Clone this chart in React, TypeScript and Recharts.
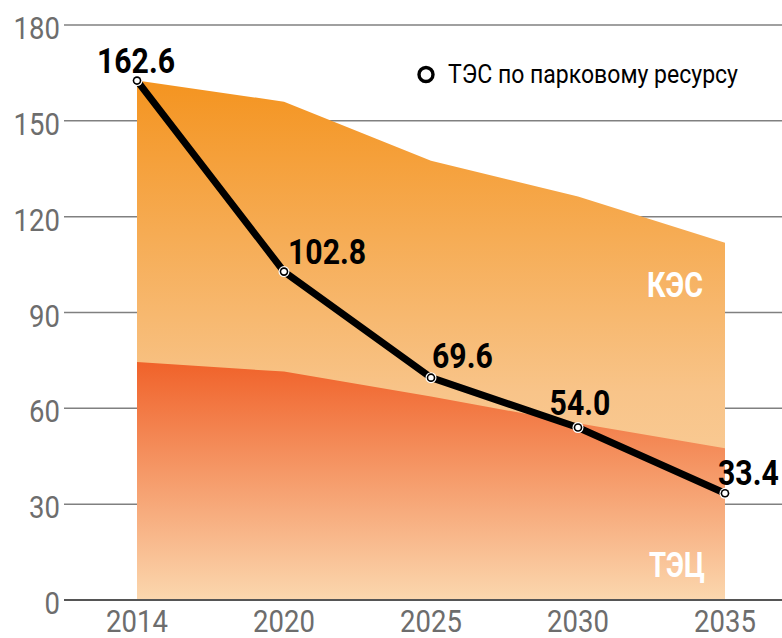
import { Area, CartesianGrid, ComposedChart, Line, XAxis, YAxis } from 'recharts'

const YEARS = ['2014', '2020', '2025', '2030', '2035']
const KES_TOTAL = [162.6, 156.0, 137.5, 126.3, 111.8]
const TEC = [74.5, 71.5, 63.7, 55.3, 47.5]
const PARK_RESOURCE = [162.6, 102.8, 69.6, 54.0, 33.4]
const Y_TICKS = [0, 30, 60, 90, 120, 150, 180]

const data = YEARS.map((year, i) => ({
  year,
  kes: KES_TOTAL[i],
  tec: TEC[i],
  park: PARK_RESOURCE[i],
}))

const FONT = "Roboto, 'Noto Sans', sans-serif"
const SQUEEZE = 0.86

// label placement per point: [dx, dy, anchor]
const LABEL_POS: [number, number, string][] = [
  [-1, -8, 'middle'],
  [4, -8, 'start'],
  [1, -10, 'start'],
  [2, -13, 'middle'],
  [-7, -8, 'start'],
]

function XTick(props: any) {
  const { x, payload } = props
  return (
    <text
      transform={`translate(${x},632) scale(${SQUEEZE},1)`}
      textAnchor="middle"
      fontFamily={FONT}
      fontSize={32}
      fill="#6d6d6d"
    >
      {payload.value}
    </text>
  )
}

function YTick(props: any) {
  const { y, payload } = props
  return (
    <text
      transform={`translate(60,${y + 14}) scale(${SQUEEZE},1)`}
      textAnchor="end"
      fontFamily={FONT}
      fontSize={32}
      fill="#6d6d6d"
    >
      {payload.value}
    </text>
  )
}

function ParkDot(props: any) {
  const { cx, cy } = props
  if (cx == null || cy == null) return null
  return (
    <g>
      <circle cx={cx} cy={cy} r={5.5} fill="#fff" />
      <circle cx={cx} cy={cy} r={4.3} fill="#000" />
      <circle cx={cx} cy={cy} r={2.7} fill="#fff" />
    </g>
  )
}

function ParkLabel(props: any) {
  const { x, y, value, index } = props
  const [dx, dy, anchor] = LABEL_POS[index] ?? [0, -10, 'middle']
  return (
    <text
      transform={`translate(${x + dx},${y + dy}) scale(0.84,1)`}
      textAnchor={anchor as any}
      fontFamily={FONT}
      fontWeight="bold"
      fontSize={36}
      fill="#000"
    >
      {Number(value).toFixed(1)}
    </text>
  )
}

export default function App() {
  return (
    <div style={{ position: 'absolute', left: 0, top: 0, width: 782, height: 638, background: '#fff' }}>
      <ComposedChart width={782} height={638} data={data} margin={{ top: 25, right: 0, left: 0, bottom: 0 }}>
        <defs>
          <linearGradient id="gradKes" x1="0" y1="0" x2="0" y2="1">
            <stop offset="0%" stopColor="#f49420" />
            <stop offset="60%" stopColor="#f8c489" />
            <stop offset="100%" stopColor="#fbd6a8" />
          </linearGradient>
          <linearGradient id="gradTec" x1="0" y1="0" x2="0" y2="1">
            <stop offset="0%" stopColor="#f0622a" />
            <stop offset="100%" stopColor="#fbd7ae" />
          </linearGradient>
        </defs>
        <XAxis
          dataKey="year"
          padding={{ left: 73, right: 57 }}
          axisLine={{ stroke: '#555', strokeWidth: 2 }}
          tickLine={false}
          tick={<XTick />}
          height={38}
        />
        <YAxis
          domain={[0, 180]}
          ticks={Y_TICKS}
          width={64}
          axisLine={false}
          tickLine={false}
          tick={<YTick />}
        />
        <Area
          type="linear"
          dataKey="kes"
          stroke="none"
          fill="url(#gradKes)"
          fillOpacity={1}
          isAnimationActive={false}
        />
        <Area
          type="linear"
          dataKey="tec"
          stroke="none"
          fill="url(#gradTec)"
          fillOpacity={1}
          isAnimationActive={false}
        />
        <CartesianGrid vertical={false} stroke="#808080" strokeWidth={1.5} />
        <Line
          type="linear"
          dataKey="park"
          stroke="#000"
          strokeWidth={7}
          dot={<ParkDot />}
          activeDot={false}
          label={<ParkLabel />}
          isAnimationActive={false}
        />
      </ComposedChart>
      <svg
        width={782}
        height={638}
        style={{ position: 'absolute', left: 0, top: 0, pointerEvents: 'none' }}
      >
        <text
          x={647}
          y={297}
          fontFamily={FONT}
          fontWeight="bold"
          fontSize={35}
          fill="#fff"
          textLength={56}
          lengthAdjust="spacingAndGlyphs"
        >
          КЭС
        </text>
        <text
          x={649}
          y={577}
          fontFamily={FONT}
          fontWeight="bold"
          fontSize={35}
          fill="#fff"
          textLength={56}
          lengthAdjust="spacingAndGlyphs"
        >
          ТЭЦ
        </text>
        <circle cx={426} cy={74.5} r={7} fill="#fff" stroke="#000" strokeWidth={3.4} />
        <text
          x={448}
          y={83}
          fontFamily={FONT}
          fontSize={25}
          fill="#000"
          textLength={290}
          lengthAdjust="spacingAndGlyphs"
        >
          ТЭС по парковому ресурсу
        </text>
      </svg>
    </div>
  )
}
